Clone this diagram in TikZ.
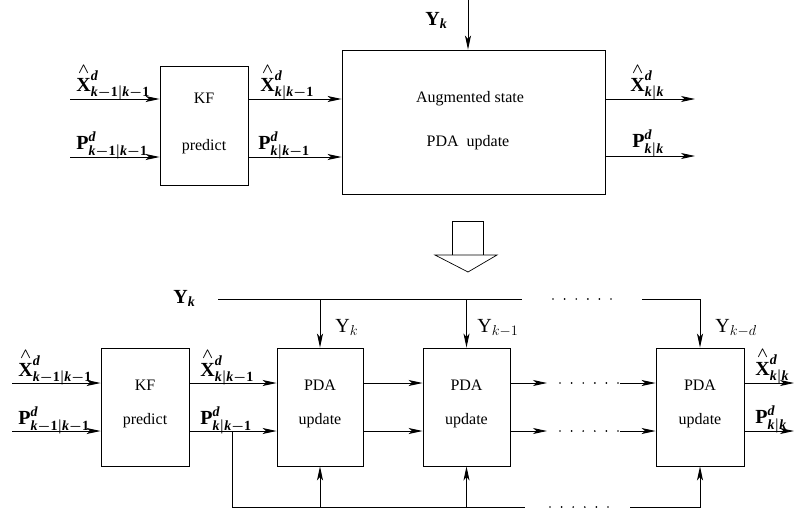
\documentclass[tikz,border=0pt]{standalone}
\usepackage{amsmath}
\usepackage{fontspec}
\setmainfont{Liberation Serif}
\usetikzlibrary{arrows.meta}
\newcommand\bi[1]{\text{\bfseries\itshape #1}}
\newcommand\mneg{\boldsymbol{-}}
\newcommand\Xhat[1]{${\smash{\overset{\boldsymbol{\wedge}}{\mathbf{X}}}\vphantom{\rule{0pt}{16pt}}}^{\bi{d}}_{#1}$}
\newcommand\Pd[1]{$\mathbf{P}^{\bi{d}}_{#1}$}
\newcommand\skk{\bi{k}\boldsymbol{|}\bi{k}}
\newcommand\skkm{\bi{k}\boldsymbol{|}\bi{k}\mneg\mathbf{1}}
\newcommand\skmkm{\bi{k}\mneg\mathbf{1}\boldsymbol{|}\bi{k}\mneg\mathbf{1}}
\begin{document}
\begin{tikzpicture}[x=1pt,y=-1pt,line width=0.9pt,
  blk/.style={draw, inner sep=0pt},
  txt/.style={anchor=base, inner sep=0pt, font=\fontsize{16}{19}\selectfont},
  lab/.style={anchor=base west, inner sep=0pt, font=\fontsize{20}{24}\selectfont},
  arr/.style={-{Stealth[length=14pt,width=6pt,inset=3.5pt]}},
  dotrow/.style={line width=1.9pt, line cap=round, dash pattern=on 0pt off 11.6pt}]
\useasboundingbox (0,0) rectangle (794,512);

% ---------- top diagram ----------
\node[blk, minimum width=88pt, minimum height=119pt] (kf1) at (204,125.5) {};
\node[blk, minimum width=263pt, minimum height=144pt] (aug) at (473.5,122) {};
\node[txt] (kf1a) at (204,103) {KF};
\node[txt] (kf1b) at (204,150) {predict};
\node[txt] (auga) at (470,102) {Augmented state};
\node[txt] (augb) at (468,146) {PDA\ \ update};

\coordinate (i1) at (70,99);
\coordinate (i2) at (70,157);
\coordinate (o1) at (695,99);
\coordinate (o2) at (695,156);
\coordinate (yt) at (468,0);
\draw[arr] (i1) -- (i1 -| kf1.west);
\draw[arr] (i2) -- (i2 -| kf1.west);
\draw[arr] (kf1.east |- i1) -- (aug.west |- i1);
\draw[arr] (kf1.east |- i2) -- (aug.west |- i2);
\draw[arr] (aug.east |- o1) -- (o1);
\draw[arr] (aug.east |- o2) -- (o2);
\draw[arr] (yt) -- (yt |- aug.north);

\node[lab] (tl1) at (76,91) {\Xhat{\skmkm}};
\node[lab] (tl2) at (76,149) {\Pd{\skmkm}};
\node[lab] (tl3) at (260,91) {\Xhat{\skkm}};
\node[lab] (tl4) at (258,149) {\Pd{\skkm}};
\node[lab] (tl5) at (630,91) {\Xhat{\skk}};
\node[lab] (tl6) at (632,147) {\Pd{\skk}};
\node[lab] (tl7) at (425,25) {$\mathbf{Y}_{\bi{k}}$};

% ---------- big down arrow ----------
\draw[line width=0.7pt] (452,255) -- (452,221) -- (483,221) -- (483,255);
\draw[line width=0.7pt] (435,255) -- (497,255) -- (468,272) -- cycle;

% ---------- bottom diagram ----------
\node[blk, minimum width=88pt, minimum height=118pt] (kf2) at (145,407) {};
\node[blk, minimum width=86pt, minimum height=118pt] (pda1) at (320,407) {};
\node[blk, minimum width=87pt, minimum height=118pt] (pda2) at (466.5,407) {};
\node[blk, minimum width=88pt, minimum height=118pt] (pda3) at (700,407) {};
\node[txt] (kf2a) at (145,390) {KF};
\node[txt] (kf2b) at (145,424) {predict};
\node[txt] (p1a) at (320,390) {PDA};
\node[txt] (p1b) at (320,424) {update};
\node[txt] (p2a) at (466.5,390) {PDA};
\node[txt] (p2b) at (466.5,424) {update};
\node[txt] (p3a) at (700,390) {PDA};
\node[txt] (p3b) at (700,424) {update};

\coordinate (j1) at (12,383);
\coordinate (j2) at (12,431);
\draw[arr] (j1) -- (j1 -| kf2.west);
\draw[arr] (j2) -- (j2 -| kf2.west);
\draw[arr] (kf2.east |- j1) -- (pda1.west |- j1);
\draw[arr] (kf2.east |- j2) -- (pda1.west |- j2);
\draw[arr] (pda1.east |- j1) -- (pda2.west |- j1);
\draw[arr] (pda1.east |- j2) -- (pda2.west |- j2);
\coordinate (a1) at (547,383);
\coordinate (a2) at (547,431);
\coordinate (b1) at (620,383);
\coordinate (b2) at (620,431);
\draw[arr] (pda2.east |- j1) -- (a1);
\draw[arr] (pda2.east |- j2) -- (a2);
\draw[dotrow] (560,383) -- (620,383);
\draw[dotrow] (560,431) -- (620,431);
\draw[arr] (b1) -- (pda3.west |- b1);
\draw[arr] (b2) -- (pda3.west |- b2);
\coordinate (e1) at (794,383);
\coordinate (e2) at (794,431);
\draw[arr] (pda3.east |- e1) -- (e1);
\draw[arr] (pda3.east |- e2) -- (e2);

% measurement line
\coordinate (yb0) at (218,299);
\coordinate (yb1) at (522,299);
\coordinate (yb2) at (642,299);
\draw (yb0) -- (yb1);
\draw[arr] (pda1.north |- yb0) -- (pda1.north);
\draw[arr] (pda2.north |- yb0) -- (pda2.north);
\draw[dotrow] (553,299) -- (614,299);
\draw[arr] (yb2) -| (pda3.north);

% feedback line
\coordinate (fb0) at (232,431);
\coordinate (fb1) at (232,507);
\coordinate (fb2) at (525,507);
\coordinate (fb3) at (630,507);
\draw (fb0) -- (fb1) -- (fb2);
\draw[arr] (pda1.south |- fb1) -- (pda1.south);
\draw[arr] (pda2.south |- fb1) -- (pda2.south);
\draw[dotrow] (550,507) -- (609,507);
\draw[arr] (fb3) -| (pda3.south);

% labels
\node[lab] (bl1) at (173,303) {$\mathbf{Y}_{\bi{k}}$};
\node[lab] (bl2) at (335,332) {$\mathrm{Y}_{k}$};
\node[lab] (bl3) at (477,332) {$\mathrm{Y}_{k-1}$};
\node[lab] (bl4) at (715,332) {$\mathrm{Y}_{k-d}$};
\node[lab] (bl5) at (18,376) {\Xhat{\skmkm}};
\node[lab] (bl6) at (18,424) {\Pd{\skmkm}};
\node[lab] (bl7) at (200,376) {\Xhat{\skkm}};
\node[lab] (bl8) at (200,424) {\Pd{\skkm}};
\node[lab] (bl9) at (755,375) {\Xhat{\skk}};
\node[lab] (bl10) at (755,423) {\Pd{\skk}};
\end{tikzpicture}
\end{document}
